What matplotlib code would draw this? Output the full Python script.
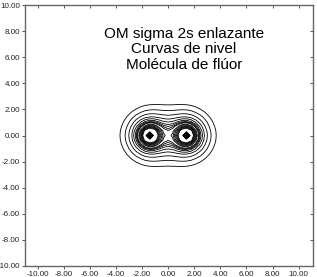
import numpy as np
import matplotlib
matplotlib.use("Agg")
import matplotlib.pyplot as plt
from matplotlib.ticker import FormatStrFormatter

# data
atom_x = [-1.4, 1.4]
zeta_outer = 1.9
zeta_inner = 5.0
c_inner = 3.0
grid_step = 0.35
outer_levels = [0.031, 0.054, 0.080, 0.107, 0.130, 0.150, 0.165]
inner_levels = [0.178, 0.190, 0.216, 0.230, 0.245, 0.260, 0.275, 0.290, 0.305]
levels = outer_levels + inner_levels
title_lines = ["OM sigma 2s enlazante", "Curvas de nivel", "Molécula de flúor"]
xticks = [-10, -8, -6, -4, -2, 0, 2, 4, 6, 8, 10]
yticks = [-10, -8, -6, -4, -2, 0, 2, 4, 6, 8, 10]

plt.rcParams['font.family'] = ['Liberation Sans', 'DejaVu Sans']

fig = plt.figure(figsize=(3.17, 2.77), dpi=100)
ax = fig.add_axes([24.5/317, 11/277, 288.5/317, 261/277])

n = int(round(10/grid_step))
g = np.arange(-n, n+1) * grid_step
X, Y = np.meshgrid(g, g)
Z = np.zeros_like(X)
for a in atom_x:
    r = np.hypot(X-a, Y)
    Z += r*np.exp(-zeta_outer*r) + c_inner*r*np.exp(-zeta_inner*r)
ax.contour(X, Y, Z, levels=levels, colors='black', linewidths=0.6)

ax.set_xlim(-11.0, 11.1)
ax.set_ylim(-10, 10)
ax.set_xticks(xticks)
ax.set_yticks(yticks)
ax.xaxis.set_major_formatter(FormatStrFormatter('%.2f'))
ax.yaxis.set_major_formatter(FormatStrFormatter('%.2f'))
ax.tick_params(axis='both', labelsize=5.8, length=2.5, width=0.7,
               colors='#555555', labelcolor='#222222', pad=0.8,
               top=True, right=True, direction='out')
for t in ax.xaxis.get_major_ticks():
    t.tick2line.set_marker(3)
for t in ax.yaxis.get_major_ticks():
    t.tick2line.set_marker(0)
for s in ax.spines.values():
    s.set_color('#666666')
    s.set_linewidth(1.0)

for i, line in enumerate(title_lines):
    ax.text(1.2, 7.8 - i*1.2, line, ha='center', va='center', fontsize=11)

fig.savefig('out.png', dpi=100)
